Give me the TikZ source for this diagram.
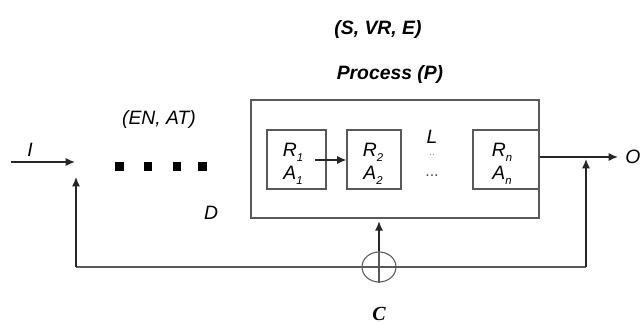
\documentclass[tikz,border=0pt]{standalone}
\usepackage{fontspec}
\setmainfont{Liberation Sans}
\newfontfamily\serifc{Liberation Serif}
\usetikzlibrary{arrows.meta,shapes.geometric}
\begin{document}
\begin{tikzpicture}[x=0.75pt,y=-0.75pt,
  every node/.style={font=\fontsize{14.5}{17}\selectfont\itshape, inner sep=0pt},
  frame/.style={draw=black!65, line width=0.8pt, rectangle, minimum height=44.25pt},
  ln/.style={draw=black!65, line width=0.8pt},
  arr/.style={draw=black!85, line width=1pt, -{Latex[length=7pt,width=6pt]}},
  sq/.style={fill=black, minimum size=6.5pt, rectangle},
  ttl/.style={font=\fontsize{14.5}{17}\selectfont\bfseries\itshape}]
\useasboundingbox (0,0) rectangle (643,323);
% titles
\node[ttl] (svre) at (378,30) {(S, VR, E)};
\node[ttl] (proc) at (390,75) {Process (P)};
% outer process box
\node[frame, minimum width=216pt, minimum height=88.5pt] (P) at (395,159) {};
% inner boxes
\node[frame, minimum width=44.25pt] (r1) at (296.5,159.5) {};
\node[frame, minimum width=40.5pt] (r2) at (374,159.5) {};
\node[frame, minimum width=49.5pt] (rn) at (506,159.5) {};
\newcommand{\sbs}[1]{\raisebox{-0.5ex}{\fontsize{8.5}{10}\selectfont #1}}
\node (r1t) at (293,152) {R\sbs{1}};
\node (a1t) at (293,175) {A\sbs{1}};
\node (r2t) at (373,152) {R\sbs{2}};
\node (a2t) at (373,175) {A\sbs{2}};
\node (rnt) at (502,152) {R\sbs{n}};
\node (ant) at (502,175) {A\sbs{n}};
\node (L) at (432,137) {L};
\node[font=\fontsize{8}{9}\selectfont, text=black!40] (vd) at (432,155) {..};
\node[font=\fontsize{12}{14}\selectfont, text=black!70] (hd) at (432,176) {...};
% R1 -> R2
\coordinate (a12) at (315,160);
\draw[arr, line width=0.9pt] (a12) -- (a12 -| r2.west);
% other labels
\node (EN) at (159,120) {(EN, AT)};
\node (D) at (211,213) {D};
\node (I) at (30,150) {I};
\node[anchor=west] (O) at (625,157) {O};
\node[font=\fontsize{15}{17}\selectfont\serifc\bfseries\itshape] (C) at (379,314) {C};
% dots
\foreach \x/\n in {119.5/d1,148/d2,177/d3,202.5/d4}
  \node[sq] (\n) at (\x,166.5) {};
% input
\coordinate (ins) at (11,162);
\coordinate (ine) at (75,162);
\draw[arr] (ins) -- (ine);
% output
\coordinate (oe) at (618,157);
\draw[arr] (rn.east |- oe) -- (oe);
% feedback loop
\coordinate (lb) at (76,267);
\coordinate (lt) at (76,177);
\coordinate (rb) at (586,267);
\node[draw=black!65, line width=0.8pt, ellipse, minimum width=25.5pt, minimum height=22.5pt] (sum) at (379,267) {};
\draw[ln] (lb) -- (rb);
\draw[arr] (lb) -- (lt);
\draw[arr, shorten >=1.5pt] (rb) -- (rb |- oe);
\draw[ln] (sum.south) -- (sum.north);
\draw[arr, shorten >=2pt] (sum.north) -- (sum.north |- P.south);
\end{tikzpicture}
\end{document}
